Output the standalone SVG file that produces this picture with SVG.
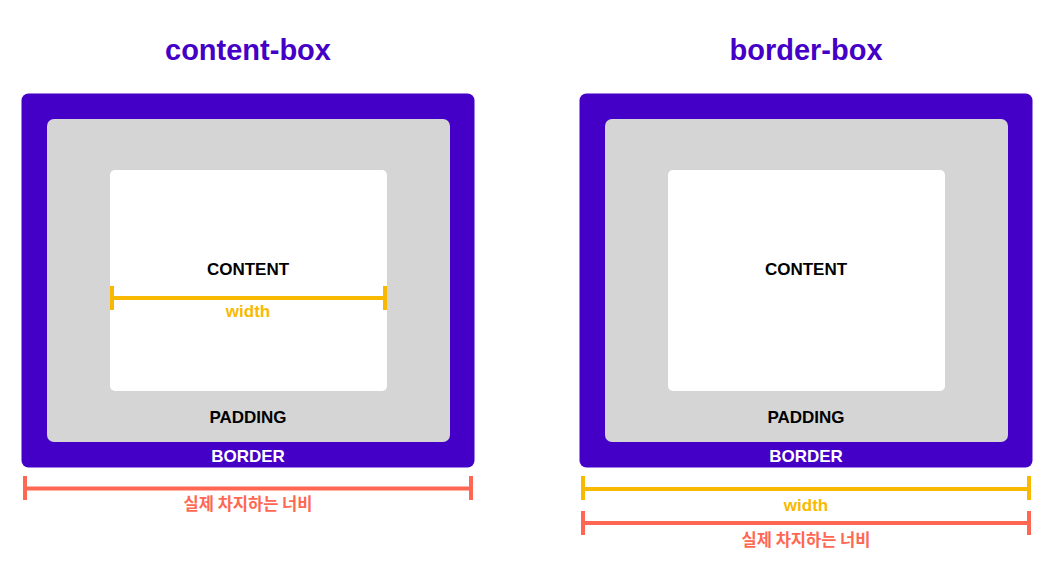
<svg xmlns="http://www.w3.org/2000/svg" width="1053" height="568" viewBox="0 0 1053 568">
<style>
text{font-family:"Liberation Sans",Arial,"Noto Sans CJK KR",sans-serif;font-weight:bold;text-anchor:middle}
.title{font-size:29px;fill:#4400c6}
.lbl{font-size:17px;fill:#000}
.bl{font-size:17px;fill:#fff}
.wl{font-size:17px;fill:#f8b900}
.kr{font-size:16.5px;fill:#ff6752;font-family:"Noto Sans CJK KR","Liberation Sans",sans-serif}
.border{fill:#4400c6}
.pad{fill:#d5d5d5}
.content{fill:#fff}
.y{stroke:#f8b900;stroke-width:4;fill:none}
.r{stroke:#ff6752;stroke-width:4;fill:none}
</style>
<rect width="1053" height="568" fill="#fff"/>
<g id="content-box">
  <text class="title" x="248" y="60">content-box</text>
  <rect class="border" x="21.5" y="93.5" width="453" height="374" rx="7"/>
  <rect class="pad" x="47" y="119" width="403" height="323" rx="7"/>
  <rect class="content" x="110" y="170" width="277" height="221" rx="5"/>
  <text class="lbl" x="248" y="275">CONTENT</text>
  <text class="wl" x="248" y="317">width</text>
  <text class="lbl" x="248" y="423">PADDING</text>
  <text class="bl" x="248" y="462">BORDER</text>
  <text class="kr" x="248" y="510">실제 차지하는 너비</text>
</g>
<g id="border-box">
  <text class="title" x="806" y="60">border-box</text>
  <rect class="border" x="579.5" y="93.5" width="453" height="374" rx="7"/>
  <rect class="pad" x="605" y="119" width="403" height="323" rx="7"/>
  <rect class="content" x="668" y="170" width="277" height="221" rx="5"/>
  <text class="lbl" x="806" y="275">CONTENT</text>
  <text class="lbl" x="806" y="423">PADDING</text>
  <text class="bl" x="806" y="462">BORDER</text>
  <text class="wl" x="806" y="511">width</text>
  <text class="kr" x="806" y="546">실제 차지하는 너비</text>
</g>
<g id="connectors">
  <path class="y" d="M112 298H385M112 286V310M385 286V310"/>
  <path class="r" d="M25 488.5H471M25 476V500M471 476V500"/>
  <path class="y" d="M583 489H1029M583 476V500M1029 476V500"/>
  <path class="r" d="M583 523H1029M583 511V535M1029 511V535"/>
</g>
</svg>
